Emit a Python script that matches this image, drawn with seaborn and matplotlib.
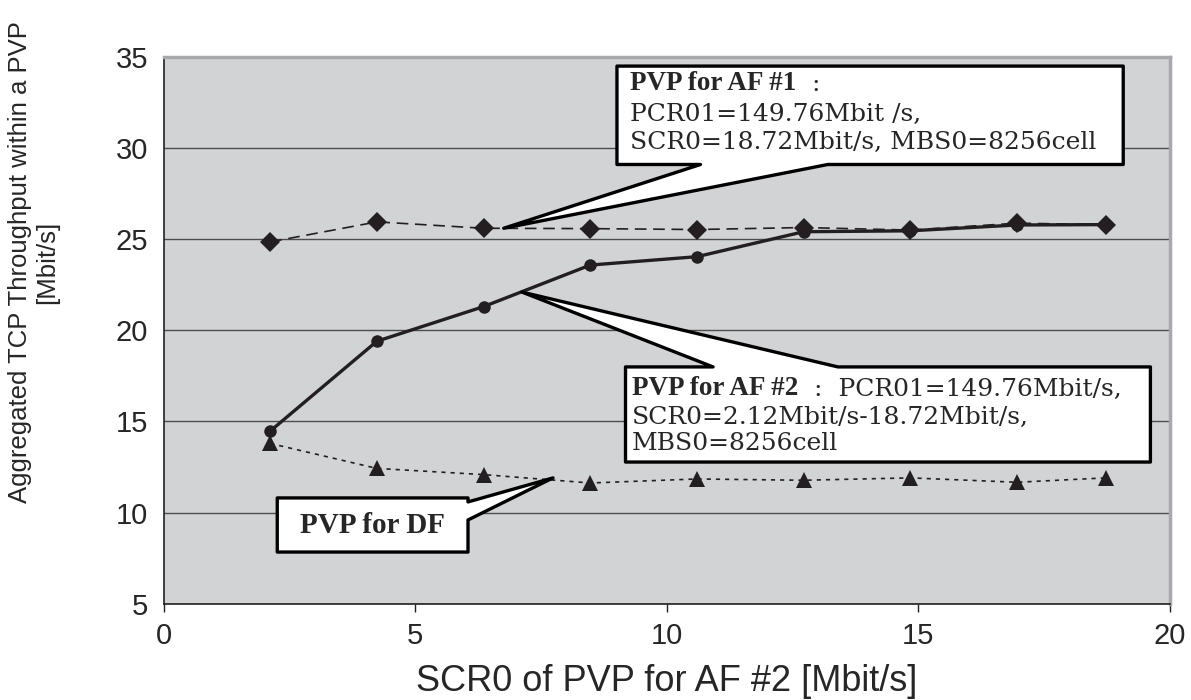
import matplotlib
matplotlib.use("Agg")
import matplotlib.pyplot as plt
from matplotlib.patches import Polygon
import seaborn as sns

# ---- data ----
scr0_af2 = [2.12, 4.24, 6.36, 8.48, 10.6, 12.72, 14.84, 16.96, 18.72]
thr_af1 = [24.85, 25.95, 25.6, 25.58, 25.53, 25.64, 25.5, 25.88, 25.8]
thr_af2 = [14.47, 19.4, 21.3, 23.58, 24.04, 25.41, 25.46, 25.78, 25.8]
thr_df = [13.79, 12.42, 12.08, 11.62, 11.84, 11.77, 11.9, 11.66, 11.9]

x_ticks = [0, 5, 10, 15, 20]
y_ticks = [5, 10, 15, 20, 25, 30, 35]

INK = "#231f20"
BG = "#d1d3d4"

sns.set_theme(style="white")
plt.rcParams['font.family'] = ['Liberation Sans', 'DejaVu Sans']

fig = plt.figure(figsize=(11.91, 7.0), dpi=100)
ax = fig.add_axes([0.1373, 0.1377, 0.8451, 0.7809])
ax.set_facecolor(BG)

# series
sns.lineplot(x=scr0_af2, y=thr_af1, ax=ax, color=INK, lw=1.2, marker='D',
             markersize=10, markeredgewidth=0, zorder=3)
ax.lines[-1].set_dashes((7, 4))
sns.lineplot(x=scr0_af2, y=thr_af2, ax=ax, color=INK, lw=2.4, marker='o',
             markersize=9, markeredgewidth=0, zorder=4)
sns.lineplot(x=scr0_af2, y=thr_df, ax=ax, color=INK, lw=1.2, marker='^',
             markersize=11, markeredgewidth=0, zorder=3)
ax.lines[-1].set_dashes((2.5, 3))

ax.set_xlim(0, 20)
ax.set_ylim(5, 35)
ax.set_xticks(x_ticks)
ax.set_yticks(y_ticks)
ax.yaxis.grid(True, color="#4d4d4d", lw=1.0)
ax.xaxis.grid(False)
ax.set_axisbelow(True)

for s in ['left', 'bottom']:
    ax.spines[s].set_color(INK)
    ax.spines[s].set_linewidth(1.2)
for s in ['top', 'right']:
    ax.spines[s].set_color("#a7a9ac")
    ax.spines[s].set_linewidth(2.5)

ax.tick_params(axis='x', direction='out', length=6, width=1, color=INK,
               pad=7, labelsize=21, bottom=True)
ax.tick_params(axis='y', length=0, pad=11, labelsize=21)

ax.set_xlabel("SCR0 of PVP for AF #2 [Mbit/s]", fontsize=26)
ax.set_ylabel("Aggregated TCP Throughput within a PVP\n[Mbit/s]", fontsize=18.5,
              linespacing=1.15)
ax.xaxis.set_label_coords(0.5, -0.11)
ax.yaxis.set_label_coords(-0.104, 0.625)

# ---- callouts: box outline (left, right, top, bottom), wedge base, tip ----
def callout(left, right, top, bottom, side, base, tip):
    if side == 'bottom':
        pts = [(right, top), (right, bottom), (base[1], bottom), tip,
               (base[0], bottom), (left, bottom), (left, top)]
    elif side == 'top':
        pts = [(left, bottom), (left, top), (base[0], top), tip,
               (base[1], top), (right, top), (right, bottom)]
    else:  # right
        pts = [(left, top), (left, bottom), (right, bottom), (right, base[0]),
               tip, (right, base[1]), (right, top)]
    ax.add_patch(Polygon(pts, closed=True, facecolor='white', edgecolor='black',
                         lw=2.4, joinstyle='round', zorder=6, clip_on=False))

callout(9.01, 19.07, 34.5, 29.1, 'bottom', (10.67, 13.2), (6.76, 25.6))
callout(9.18, 19.61, 17.99, 12.77, 'top', (10.92, 13.4), (7.12, 22.1))
callout(2.26, 6.05, 10.8, 7.83, 'right', (9.59, 10.58), (7.74, 11.9))

serif = ['DejaVu Serif']
bold_serif = ['Liberation Serif', 'DejaVu Serif']
fs = 18
fs_bold = 19.5

t1 = ax.text(9.26, 33.57, "PVP for AF #1", fontsize=fs_bold, fontweight='bold',
             family=bold_serif, va='center', ha='left', zorder=7)
ax.annotate("  :", xy=(1, 0), xycoords=t1, va='bottom', ha='left',
            fontsize=fs, family=serif, zorder=7)
ax.text(9.26, 31.82, "PCR01=149.76Mbit /s,", fontsize=fs, family=serif,
        va='center', ha='left', zorder=7)
ax.text(9.26, 30.33, "SCR0=18.72Mbit/s, MBS0=8256cell", fontsize=fs,
        family=serif, va='center', ha='left', zorder=7)

t2 = ax.text(9.31, 16.83, "PVP for AF #2", fontsize=fs_bold, fontweight='bold',
             family=bold_serif, va='center', ha='left', zorder=7)
ax.annotate("  :  PCR01=149.76Mbit/s,", xy=(1, 0), xycoords=t2, va='bottom',
            ha='left', fontsize=fs, family=serif, zorder=7)
ax.text(9.31, 15.19, "SCR0=2.12Mbit/s-18.72Mbit/s,", fontsize=fs,
        family=serif, va='center', ha='left', zorder=7)
ax.text(9.31, 13.81, "MBS0=8256cell", fontsize=fs, family=serif,
        va='center', ha='left', zorder=7)

ax.text(4.16, 9.31, "PVP for DF", fontsize=21, fontweight='bold',
        family=bold_serif, va='center', ha='center', zorder=7)

fig.savefig("out.png", dpi=100)
